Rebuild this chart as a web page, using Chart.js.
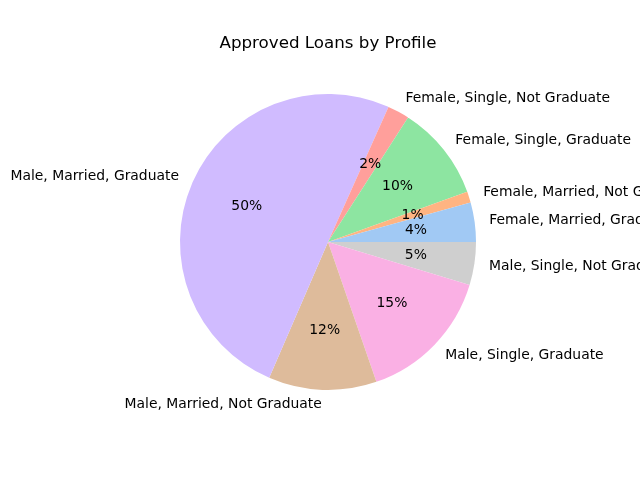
<!DOCTYPE html>
<html>
<head>
<meta charset="utf-8">
<script src="https://cdn.jsdelivr.net/npm/chart.js@4"></script>
<style>
  html, body { margin: 0; padding: 0; background: #fff; }
  #wrap { width: 640px; height: 480px; }
</style>
</head>
<body>
<div id="wrap"><canvas id="myChart" width="640" height="480"></canvas></div>
<script>
// slices in matplotlib order (counter-clockwise from 3 o'clock)
const labels = [
    'Female, Married, Graduate',
    'Female, Married, Not Graduate',
    'Female, Single, Graduate',
    'Female, Single, Not Graduate',
    'Male, Married, Graduate',
    'Male, Married, Not Graduate',
    'Male, Single, Graduate',
    'Male, Single, Not Graduate'
];
const shares = [4.3, 1.2, 10.4, 2.4, 50.2, 11.8, 15.0, 4.7];
const colors = ['#a1c9f4', '#ffb482', '#8de5a1', '#ff9f9b', '#d0bbff', '#debb9b', '#fab0e4', '#cfcfcf'];
const titleText = 'Approved Loans by Profile';

const FONT = '"DejaVu Sans", sans-serif';

// chart.js draws clockwise, so reverse and start at 3 o'clock
const revLabels = labels.slice().reverse();
const revShares = shares.slice().reverse();
const revColors = colors.slice().reverse();

const pieText = {
    id: 'pieText',
    afterDraw(chart) {
        const ctx = chart.ctx;
        const meta = chart.getDatasetMeta(0);
        const total = revShares.reduce((a, b) => a + b, 0);
        ctx.save();
        ctx.fillStyle = '#000';

        ctx.font = '16.7px ' + FONT;
        ctx.textAlign = 'center';
        ctx.textBaseline = 'middle';
        ctx.fillText(titleText, 328, 44);

        meta.data.forEach((arc, i) => {
            const mid = (arc.startAngle + arc.endAngle) / 2;
            const r = arc.outerRadius;
            const cx = arc.x, cy = arc.y;
            const cos = Math.cos(mid), sin = Math.sin(mid);

            ctx.font = '13.9px ' + FONT;
            ctx.textAlign = 'center';
            ctx.textBaseline = 'middle';
            const pct = Math.round(revShares[i] / total * 100) + '%';
            ctx.fillText(pct, cx + cos * r * 0.6, cy + sin * r * 0.6);

            ctx.textAlign = cos > 0 ? 'left' : 'right';
            ctx.fillText(revLabels[i], cx + cos * r * 1.1, cy + sin * r * 1.1);
        });
        ctx.restore();
    }
};

function drawChart()
{
    const ctx = document.getElementById('myChart').getContext('2d');

    new Chart(ctx, {
        type: 'pie',
        data: {
            labels: revLabels,
            datasets: [{
                data: revShares,
                backgroundColor: revColors,
                borderWidth: 0
            }]
        },
        options: {
            responsive: false,
            animation: false,
            rotation: 90,
            layout: { padding: { left: 180, right: 164, top: 94, bottom: 90 } },
            plugins: {
                legend: { display: false },
                title: { display: false },
                tooltip: { enabled: false }
            }
        },
        plugins: [pieText]
    });
}

drawChart();
</script>
</body>
</html>
